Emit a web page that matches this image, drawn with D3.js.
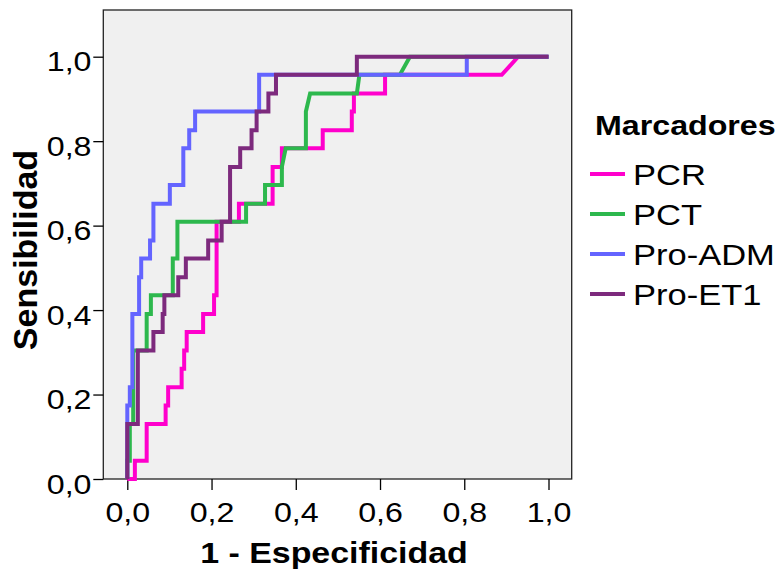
<!DOCTYPE html>
<html lang="es">
<head>
<meta charset="utf-8">
<title>Curvas COR - Marcadores</title>
<script src="https://d3js.org/d3.v7.min.js"></script>
<style>
  body { margin: 0; background: #fff; }
  text { font-family: "Liberation Sans", Arial, sans-serif; fill: #000; }
</style>
</head>
<body>
<script>
// ROC vertices [1 - especificidad, sensibilidad]
var pcr = [[0,0],[0.018,0],[0.018,0.043],[0.046,0.043],[0.046,0.130],[0.091,0.130],[0.091,0.174],
  [0.097,0.174],[0.097,0.217],[0.129,0.217],[0.129,0.261],[0.135,0.261],[0.135,0.304],[0.141,0.304],
  [0.141,0.348],[0.180,0.348],[0.180,0.391],[0.206,0.391],[0.206,0.435],[0.212,0.435],[0.212,0.609],
  [0.265,0.609],[0.265,0.652],[0.345,0.652],[0.345,0.739],[0.367,0.739],[0.367,0.783],[0.464,0.783],
  [0.464,0.826],[0.533,0.826],[0.533,0.870],[0.538,0.870],[0.538,0.913],[0.612,0.913],[0.612,0.957],
  [0.889,0.957],[0.928,1],[1,1]];
var pct = [[0,0],[0,0.043],[0.006,0.043],[0.006,0.130],[0.014,0.130],[0.014,0.304],[0.046,0.304],
  [0.046,0.391],[0.056,0.391],[0.056,0.435],[0.108,0.435],[0.108,0.522],[0.119,0.522],[0.119,0.609],
  [0.282,0.609],[0.282,0.652],[0.327,0.652],[0.327,0.696],[0.367,0.696],[0.367,0.739],[0.376,0.783],
  [0.424,0.783],[0.424,0.870],[0.434,0.913],[0.545,0.913],[0.551,0.957],[0.647,0.957],[0.671,1],[1,1]];
var proADM = [[0,0],[0,0.174],[0.006,0.174],[0.006,0.217],[0.012,0.217],[0.012,0.391],[0.028,0.391],
  [0.028,0.478],[0.033,0.478],[0.033,0.522],[0.054,0.522],[0.054,0.565],[0.062,0.565],[0.062,0.652],
  [0.101,0.652],[0.101,0.696],[0.133,0.696],[0.133,0.783],[0.147,0.783],[0.147,0.826],[0.161,0.826],
  [0.161,0.870],[0.313,0.870],[0.313,0.957],[0.806,0.957],[0.806,1],[1,1]];
var proET1 = [[0,0],[0,0.130],[0.025,0.130],[0.025,0.304],[0.062,0.304],[0.062,0.348],[0.084,0.348],
  [0.084,0.391],[0.088,0.391],[0.088,0.435],[0.121,0.435],[0.121,0.478],[0.139,0.478],[0.139,0.522],
  [0.192,0.522],[0.192,0.565],[0.224,0.565],[0.224,0.609],[0.244,0.609],[0.244,0.739],[0.268,0.739],
  [0.268,0.783],[0.295,0.783],[0.295,0.826],[0.307,0.826],[0.307,0.870],[0.335,0.870],[0.335,0.913],
  [0.353,0.913],[0.353,0.957],[0.545,0.957],[0.545,1],[1,1]];

var names = ["PCR", "PCT", "Pro-ADM", "Pro-ET1"];
var colors = ["#ff00cc", "#2db84d", "#6464ff", "#7d2a7d"];
var curves = [pcr, pct, proADM, proET1];
var ticks = [0, 0.2, 0.4, 0.6, 0.8, 1.0];

var w = 779, h = 574;
var plot = {left: 103.3, top: 10, right: 571.7, bottom: 479};
var stretch = 1.15;

var svg = d3.select("body").append("svg")
  .attr("width", w)
  .attr("height", h);

var x = d3.scaleLinear().domain([0, 1]).range([127.3, 548.5]);
var y = d3.scaleLinear().domain([0, 1]).range([479, 56.7]);

var fmt = function(d) { return d3.format(".1f")(d).replace(".", ","); };

//plot background + frame
svg.append("rect")
  .attr("x", plot.left)
  .attr("y", plot.top)
  .attr("width", plot.right - plot.left)
  .attr("height", plot.bottom - plot.top)
  .style("fill", "#f0f0f0")
  .style("stroke", "#222")
  .style("stroke-width", 1.3);

//axes
var yAxis = svg.append("g")
  .attr("transform", "translate(" + plot.left + ",0)")
  .call(d3.axisLeft(y).tickValues(ticks).tickSize(10).tickFormat(fmt));
var xAxis = svg.append("g")
  .attr("transform", "translate(0," + plot.bottom + ")")
  .call(d3.axisBottom(x).tickValues(ticks).tickSize(11).tickFormat(fmt));

[yAxis, xAxis].forEach(function(a) {
  a.select(".domain").remove();
  a.selectAll("line").style("stroke", "#000").style("stroke-width", 1.3);
  a.selectAll("text")
    .style("font-size", "28px")
    .style("font-family", "'Liberation Sans', Arial, sans-serif")
    .attr("fill", "#000")
    .attr("dy", null);
});
yAxis.selectAll("text").attr("x", -11.8 / stretch).attr("y", 14)
  .attr("transform", "scale(" + stretch + ",1)");
xAxis.selectAll("text").attr("y", 43)
  .attr("transform", "scale(" + stretch + ",1)");

//curves
var line = d3.line()
  .x(function(d) { return x(d[0]); })
  .y(function(d) { return y(d[1]); });

svg.selectAll("path.roc")
  .data(curves)
  .enter()
  .append("path")
  .attr("class", "roc")
  .attr("d", line)
  .style("fill", "none")
  .style("stroke", function(d, i) { return colors[i]; })
  .style("stroke-width", 4)
  .style("stroke-linejoin", "miter");

//axis titles
svg.append("text")
  .attr("transform", "translate(334,563) scale(1.17,1)")
  .attr("text-anchor", "middle")
  .style("font-size", "29px")
  .style("font-weight", "bold")
  .text("1 - Especificidad");

svg.append("text")
  .attr("transform", "translate(37,250) rotate(-90)")
  .attr("text-anchor", "middle")
  .style("font-size", "34px")
  .style("font-weight", "bold")
  .text("Sensibilidad");

//legend
svg.append("text")
  .attr("transform", "translate(595,135) scale(1.15,1)")
  .style("font-size", "28px")
  .style("font-weight", "bold")
  .text("Marcadores");

var legend = svg.selectAll("g.leg")
  .data(names)
  .enter()
  .append("g")
  .attr("class", "leg")
  .attr("transform", function(d, i) { return "translate(0," + (185 + i * 40) + ")"; });

legend.append("line")
  .attr("x1", 590).attr("x2", 625)
  .attr("y1", -11).attr("y2", -11)
  .style("stroke", function(d, i) { return colors[i]; })
  .style("stroke-width", 4);

legend.append("text")
  .attr("transform", "translate(633,0) scale(" + stretch + ",1)")
  .style("font-size", "30px")
  .text(function(d) { return d; });
</script>
</body>
</html>
